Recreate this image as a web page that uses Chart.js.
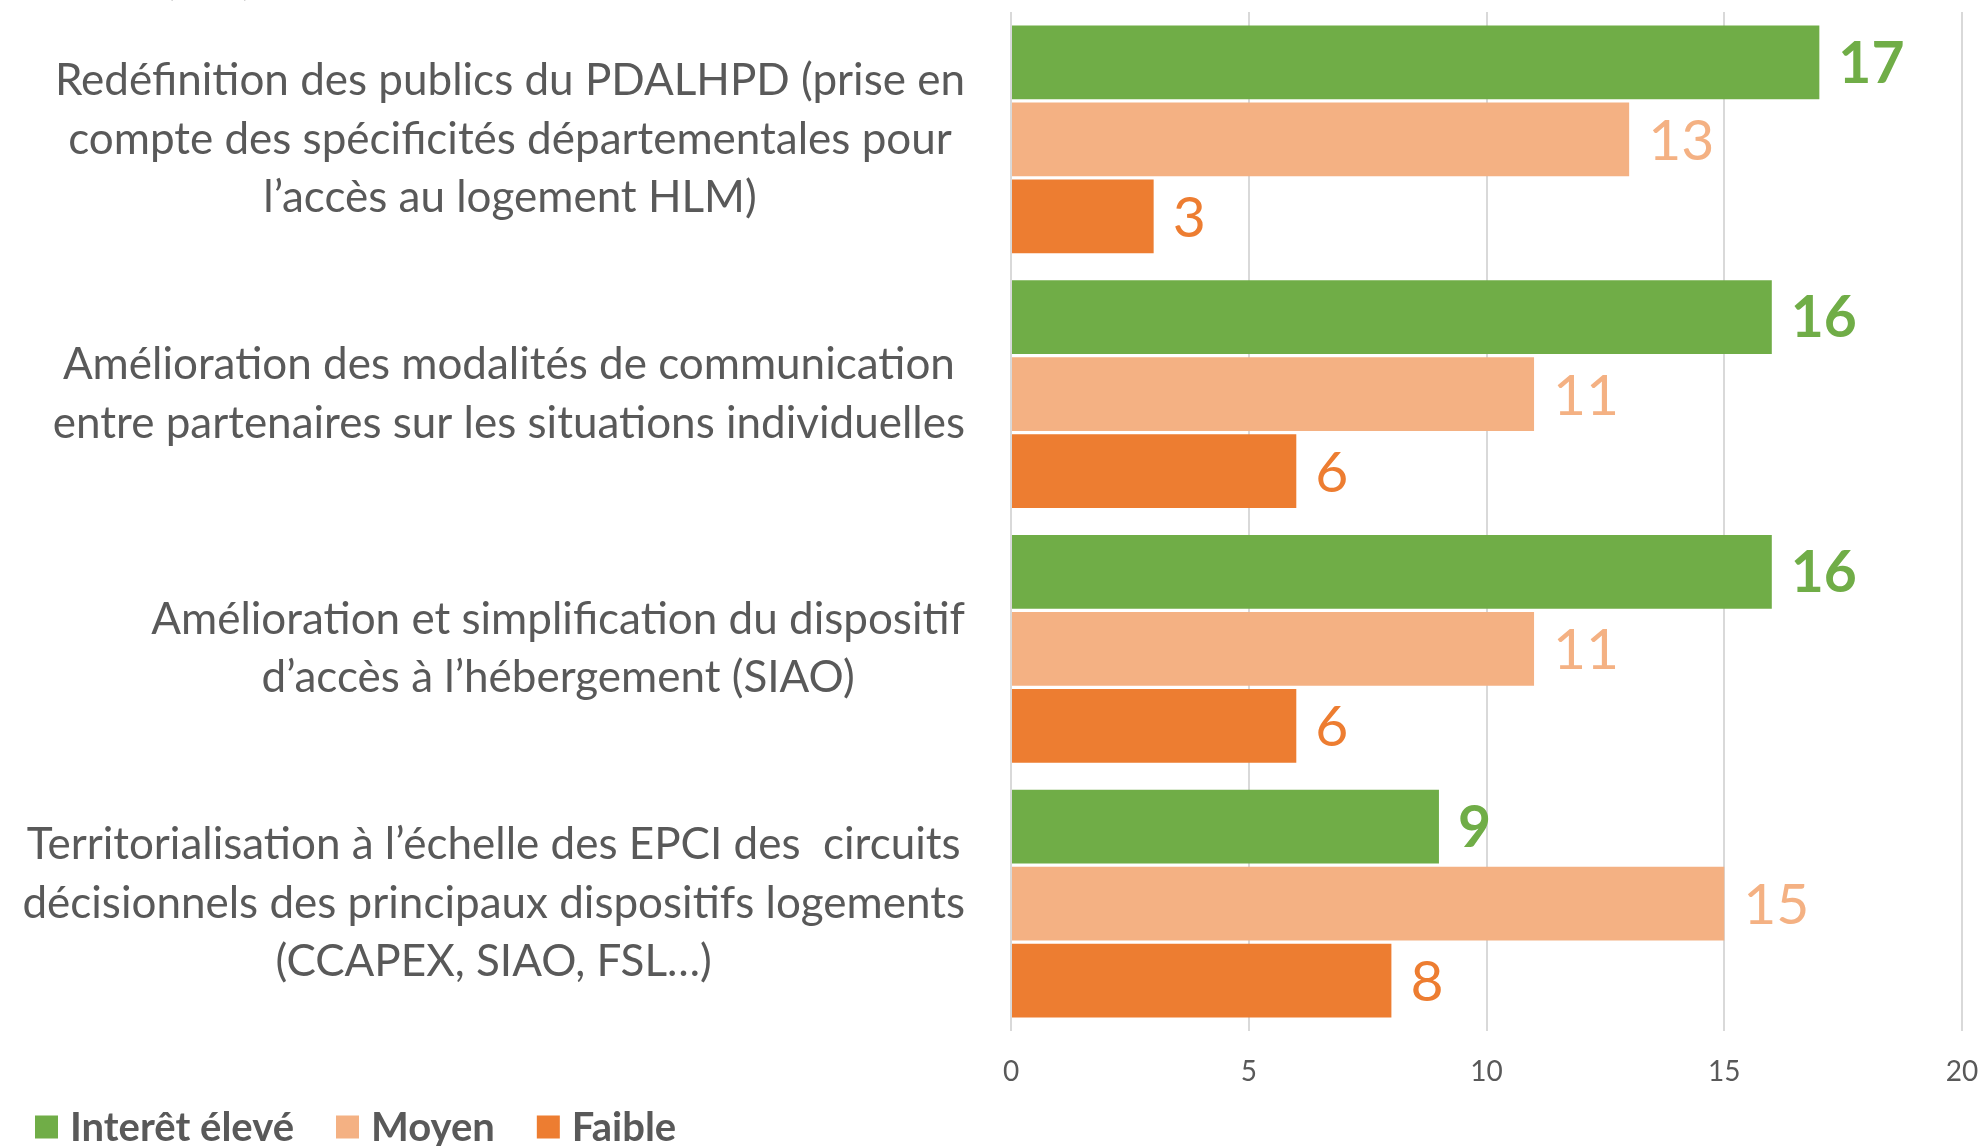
<!DOCTYPE html>
<html><head><meta charset="utf-8">
<script src="https://cdn.jsdelivr.net/npm/chart.js@4/dist/chart.umd.min.js"></script>
<style>html,body{margin:0;padding:0;background:#fff;}canvas{display:block;}</style>
</head><body>
<canvas id="c" width="1983" height="1146"></canvas>
<script>
const categories = [
  ["Redéfinition des publics du PDALHPD (prise en", "compte des spécificités départementales pour", "l’accès au logement HLM)"],
  ["Amélioration des modalités de communication", "entre partenaires sur les situations individuelles"],
  ["Amélioration et simplification du dispositif", "d’accès à l’hébergement (SIAO)"],
  ["Territorialisation à l’échelle des EPCI des  circuits", "décisionnels des principaux dispositifs logements", "(CCAPEX, SIAO, FSL…)"]
];
const seriesNames = ["Interêt élevé", "Moyen", "Faible"];
const interetEleve = [17, 16, 16, 9];
const moyen = [13, 11, 11, 15];
const faible = [3, 6, 6, 8];
const xTickValues = [0, 5, 10, 15, 20];
const seriesColors = ["#70AD47", "#F4B183", "#ED7D31"];
const topNote = "(1/2)";

const TEXT = "#595959";
const FONT = "Lato, 'Open Sans', sans-serif";

const categoryLabelPlugin = {
  id: 'categoryLabels',
  afterDraw(chart) {
    const ctx = chart.ctx;
    const y = chart.scales.y;
    const rightEdge = 965;
    const lh = 58.5;
    ctx.save();
    ctx.font = "44px " + FONT;
    ctx.fillStyle = TEXT;
    ctx.textAlign = "center";
    ctx.textBaseline = "middle";
    categories.forEach((lines, i) => {
      const cy = y.getPixelForTick(i);
      const widest = Math.max(...lines.map(l => ctx.measureText(l).width));
      const cx = rightEdge - widest / 2;
      const y0 = cy - (lines.length - 1) * lh / 2;
      lines.forEach((l, k) => ctx.fillText(l, cx, y0 + k * lh));
    });
    ctx.restore();
  }
};

const valueLabelPlugin = {
  id: 'valueLabels',
  afterDatasetsDraw(chart) {
    const ctx = chart.ctx;
    ctx.save();
    ctx.textAlign = "left";
    ctx.textBaseline = "middle";
    chart.data.datasets.forEach((ds, d) => {
      const meta = chart.getDatasetMeta(d);
      ctx.font = (d === 0 ? "bold " : "") + "57px " + FONT;
      ctx.fillStyle = ds.backgroundColor;
      meta.data.forEach((el, i) => {
        ctx.fillText(String(ds.data[i]), el.x + 19, el.y + 2);
      });
    });
    ctx.restore();
  }
};

const legendPlugin = {
  id: 'customLegend',
  afterDraw(chart) {
    const ctx = chart.ctx;
    ctx.save();
    ctx.font = "bold 40px " + FONT;
    ctx.textBaseline = "middle";
    ctx.textAlign = "left";
    let x = 35;
    const cy = 1127;
    chart.data.datasets.forEach((ds) => {
      ctx.fillStyle = ds.backgroundColor;
      ctx.fillRect(x, cy - 11.5, 23, 23);
      x += 23 + 12;
      ctx.fillStyle = TEXT;
      ctx.fillText(ds.label, x, cy + 1);
      x += ctx.measureText(ds.label).width + 42;
    });
    ctx.font = "bold 40px " + FONT;
    ctx.fillStyle = "#000";
    ctx.textBaseline = "alphabetic";
    ctx.fillText(topNote, 165, -6);
    ctx.restore();
  }
};

new Chart(document.getElementById('c'), {
  type: 'bar',
  data: {
    labels: categories,
    datasets: [
      { label: seriesNames[0], data: interetEleve, backgroundColor: seriesColors[0] },
      { label: seriesNames[1], data: moyen, backgroundColor: seriesColors[1] },
      { label: seriesNames[2], data: faible, backgroundColor: seriesColors[2] }
    ]
  },
  options: {
    indexAxis: 'y',
    responsive: false,
    animation: false,
    devicePixelRatio: 1,
    categoryPercentage: 0.907,
    barPercentage: 0.96,
    layout: { padding: { top: 12, right: 0, left: 0, bottom: 0 } },
    plugins: { legend: { display: false }, tooltip: { enabled: false } },
    scales: {
      x: {
        min: 0, max: 20,
        afterBuildTicks: s => { s.ticks = xTickValues.map(v => ({ value: v })); },
        ticks: { color: TEXT, font: { family: FONT, size: 28 }, padding: 24 },
        grid: { color: "#D9D9D9", lineWidth: 2, drawTicks: false },
        border: { display: false },
        afterFit: s => { s.height = 115; s.paddingRight = 21; }
      },
      y: {
        ticks: { display: false },
        grid: { display: false },
        border: { display: false },
        afterFit: s => { s.width = 1011; }
      }
    }
  },
  plugins: [categoryLabelPlugin, valueLabelPlugin, legendPlugin]
});
</script>
</body></html>
